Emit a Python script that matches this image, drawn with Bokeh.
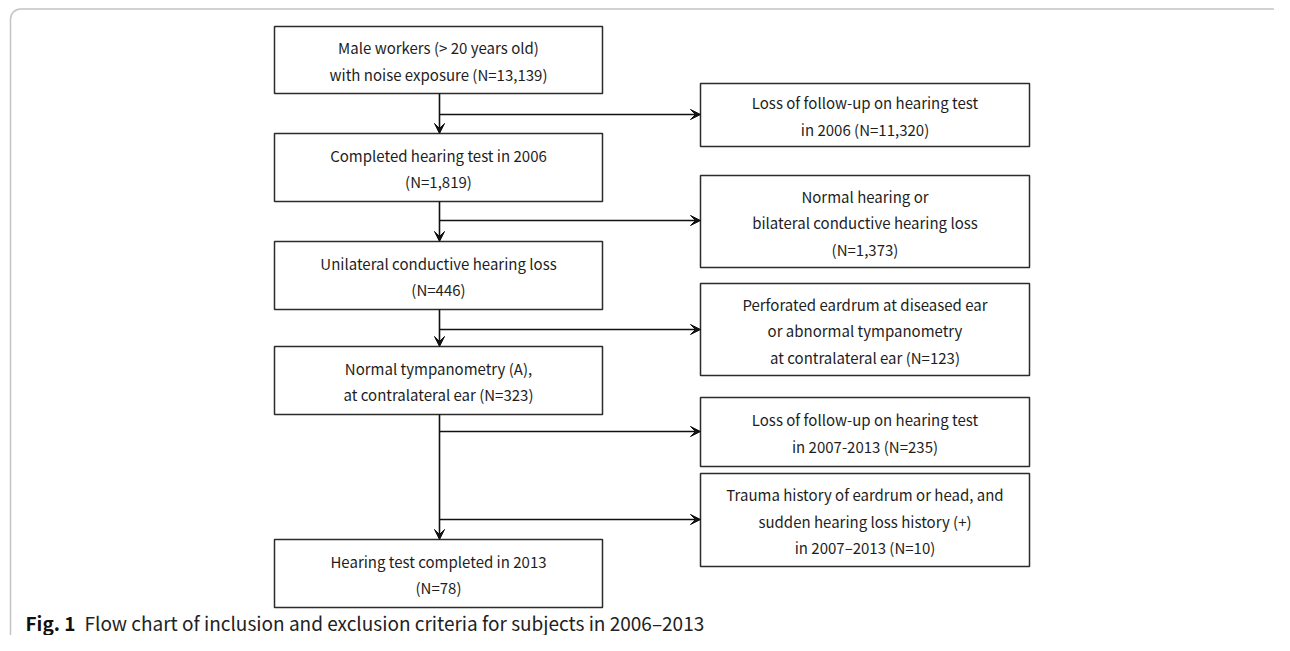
from bokeh.plotting import figure
from bokeh.models import ColumnDataSource, Range1d, Arrow, VeeHead, BoxAnnotation
from bokeh.core.properties import value
from bokeh.embed import file_html
from bokeh.resources import INLINE

# ---------------- data ----------------
main_labels = [
    ["Male workers (> 20 years old)", "with noise exposure (N={n})"],
    ["Completed hearing test in 2006", "(N={n})"],
    ["Unilateral conductive hearing loss", "(N={n})"],
    ["Normal tympanometry (A),", "at contralateral ear (N={n})"],
    ["Hearing test completed in 2013", "(N={n})"],
]
main_n = [13139, 1819, 446, 323, 78]

excl_labels = [
    ["Loss of follow-up on hearing test", "in 2006 (N={n})"],
    ["Normal hearing or", "bilateral conductive hearing loss", "(N={n})"],
    ["Perforated eardrum at diseased ear", "or abnormal tympanometry", "at contralateral ear (N={n})"],
    ["Loss of follow-up on hearing test", "in 2007-2013 (N={n})"],
    ["Trauma history of eardrum or head, and", "sudden hearing loss history (+)", "in 2007\u20132013 (N={n})"],
]
excl_n = [11320, 1373, 123, 235, 10]

caption_bold = "Fig. 1"
caption_text = "Flow chart of inclusion and exclusion criteria for subjects in 2006\u20132013"

# ---------------- layout (picture pixel coords) ----------------
W, H = 1274, 635
main_left, main_right = 274, 602
main_top = [26, 133, 241, 346, 539]
main_bot = [93, 201, 309, 414, 607]
excl_left, excl_right = 700, 1029
excl_top = [83, 175, 283, 397, 473]
excl_bot = [146, 267, 375, 466, 566]
branch_y = [114, 220, 329, 431, 519]
stem_x = 439
LH = 26.5
FONT = "Noto Sans CJK KR"
LINE_COL = "#2b2b2b"
TEXT_COL = "#1e1e1e"

p = figure(width=W, height=H, output_backend="svg", toolbar_location=None,
           x_range=Range1d(0, W), y_range=Range1d(H, 0), min_border=0)
p.axis.visible = False
p.grid.visible = False
p.outline_line_color = None
p.background_fill_color = "white"
p.border_fill_color = "white"

# outer rounded frame
p.add_layout(BoxAnnotation(left=10, right=1288, top=8.5, bottom=650,
                           fill_alpha=0, line_color="#3a3a3a", line_width=1.5,
                           border_radius=10))

# boxes
boxes = ColumnDataSource(dict(
    left=[main_left] * len(main_n) + [excl_left] * len(excl_n),
    right=[main_right] * len(main_n) + [excl_right] * len(excl_n),
    top=main_top + excl_top,
    bottom=main_bot + excl_bot,
))
p.quad(left="left", right="right", top="top", bottom="bottom", source=boxes,
       fill_color="white", line_color=LINE_COL, line_width=1.5)

# texts
tx, ty, tt = [], [], []


def add_box_text(labels, n, left, right, top, bot):
    lines = [s.format(n=f"{n:,}") for s in labels]
    cx = (left + right) / 2
    cy = (top + bot) / 2 + 1
    k = len(lines)
    for i, s in enumerate(lines):
        tx.append(cx)
        ty.append(cy + (i - (k - 1) / 2) * LH)
        tt.append(s)


for i in range(len(main_n)):
    add_box_text(main_labels[i], main_n[i], main_left, main_right, main_top[i], main_bot[i])
for i in range(len(excl_n)):
    add_box_text(excl_labels[i], excl_n[i], excl_left, excl_right, excl_top[i], excl_bot[i])

p.text(x="x", y="y", text="t", source=ColumnDataSource(dict(x=tx, y=ty, t=tt)),
       text_font=value(FONT), text_font_size="15px", text_color=TEXT_COL,
       text_align="center", text_baseline="middle")

# arrows: vertical between main boxes, then horizontal branches
ax0, ay0, ax1, ay1 = [], [], [], []
for i in range(len(main_n) - 1):
    ax0.append(stem_x); ay0.append(main_bot[i])
    ax1.append(stem_x); ay1.append(main_top[i + 1])
for i in range(len(excl_n)):
    ax0.append(stem_x); ay0.append(branch_y[i])
    ax1.append(excl_left); ay1.append(branch_y[i])

p.add_layout(Arrow(x_start="x0", y_start="y0", x_end="x1", y_end="y1",
                   source=ColumnDataSource(dict(x0=ax0, y0=ay0, x1=ax1, y1=ay1)),
                   line_color="#111111", line_width=1.6,
                   end=VeeHead(size=10, fill_color="#111111", line_color="#111111", line_width=1)))

# caption
cap_y = 622
p.text(x=[25], y=[cap_y], text=[caption_bold], text_font=value(FONT),
       text_font_size="19px", text_font_style="bold", text_color="#111111",
       text_align="left", text_baseline="alphabetic")
p.text(x=[84], y=[cap_y], text=[caption_text], text_font=value(FONT),
       text_font_size="19px", text_color="#222222",
       text_align="left", text_baseline="alphabetic")

open("out.html", "w").write(file_html(p, INLINE))
